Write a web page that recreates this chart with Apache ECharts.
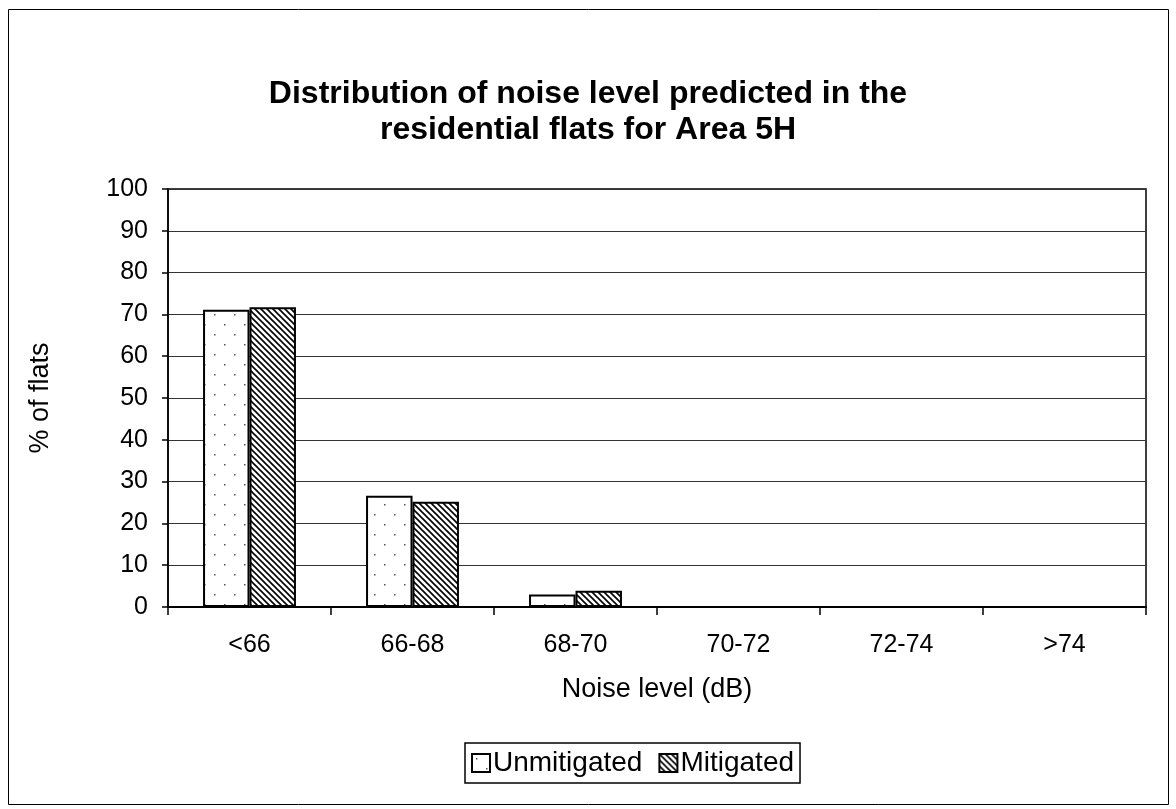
<!DOCTYPE html>
<html>
<head>
<meta charset="utf-8">
<script src="https://cdn.jsdelivr.net/npm/echarts@6/dist/echarts.min.js"></script>
<style>
html,body{margin:0;padding:0;background:#fff;}
#chart{width:1176px;height:809px;}
</style>
</head>
<body>
<div id="chart"></div>
<script>
const categories = ['<66', '66-68', '68-70', '70-72', '72-74', '>74'];
const unmitigated = [71.1, 26.6, 3.0, 0, 0, 0];
const mitigated = [71.7, 25.2, 3.9, 0, 0, 0];
const yTicks = [0, 10, 20, 30, 40, 50, 60, 70, 80, 90, 100];

function dotPattern() {
  const c = document.createElement('canvas');
  c.width = 20; c.height = 20;
  const g = c.getContext('2d');
  g.fillStyle = '#fff'; g.fillRect(0, 0, 20, 20);
  g.fillStyle = '#555';
  g.fillRect(4, 4, 1.5, 1.5);
  g.fillRect(14, 14, 1.5, 1.5);
  return c;
}
function hatchPattern() {
  const s = 6;
  const c = document.createElement('canvas');
  c.width = s; c.height = s;
  const g = c.getContext('2d');
  g.fillStyle = '#fff'; g.fillRect(0, 0, s, s);
  g.strokeStyle = '#000'; g.lineWidth = 1.6;
  g.beginPath();
  g.moveTo(-1, -1); g.lineTo(s + 1, s + 1);
  g.moveTo(-1, s - 1); g.lineTo(1, s + 1);
  g.moveTo(s - 1, -1); g.lineTo(s + 1, 1);
  g.stroke();
  return c;
}

const chart = echarts.init(document.getElementById('chart'));
const FONT = '"Liberation Sans", Arial, sans-serif';
chart.setOption({
  backgroundColor: '#fff',
  animation: false,
  title: {
    text: 'Distribution of noise level predicted in the\nresidential flats for Area 5H',
    left: 'center',
    top: 71,
    textStyle: { fontFamily: FONT, fontWeight: 'bold', fontSize: 32, color: '#000', lineHeight: 36 }
  },
  graphic: [{
    type: 'rect', shape: { x: 8.5, y: 9.5, width: 1160, height: 795 },
    style: { fill: 'none', stroke: '#000', lineWidth: 1 }, silent: true
  }],
  legend: {
    data: ['Unmitigated', 'Mitigated'],
    left: 465,
    top: 743,
    icon: 'rect',
    itemWidth: 18, itemHeight: 18, itemGap: 16,
    borderColor: '#000', borderWidth: 1.5, padding: [6, 6, 6, 6],
    textStyle: { fontFamily: FONT, fontSize: 28, color: '#000', padding: [0, 0, 0, -2] }
  },
  grid: { left: 168, right: 30, top: 189, bottom: 202, show: true, borderColor: '#000', borderWidth: 1.5 },
  xAxis: {
    type: 'category',
    data: categories,
    name: 'Noise level (dB)',
    nameLocation: 'middle',
    nameGap: 69,
    nameTextStyle: { fontFamily: FONT, fontSize: 27, color: '#000' },
    axisLine: { lineStyle: { color: '#000', width: 2 } },
    axisTick: { show: true, length: 8, lineStyle: { color: '#000', width: 1.5 } },
    axisLabel: { fontFamily: FONT, fontSize: 25, color: '#000', margin: 26 }
  },
  yAxis: {
    type: 'value',
    min: 0, max: 100, interval: 10,
    name: '% of flats',
    nameLocation: 'middle',
    nameGap: 114,
    nameTextStyle: { fontFamily: FONT, fontSize: 27, color: '#000' },
    axisLine: { show: true, lineStyle: { color: '#000', width: 1.5 } },
    axisTick: { show: true, length: 6, lineStyle: { color: '#000', width: 1.5 } },
    axisLabel: { fontFamily: FONT, fontSize: 25, color: '#000', margin: 20,
      formatter: v => yTicks.includes(v) ? String(v) : '' },
    splitLine: { show: true, lineStyle: { color: '#333', width: 1.2 } }
  },
  series: [
    {
      name: 'Unmitigated', type: 'bar', data: unmitigated,
      barGap: '0%', barCategoryGap: '43%',
      itemStyle: { color: { image: dotPattern(), repeat: 'repeat' }, borderColor: '#000', borderWidth: 2 }
    },
    {
      name: 'Mitigated', type: 'bar', data: mitigated,
      itemStyle: { color: { image: hatchPattern(), repeat: 'repeat' }, borderColor: '#000', borderWidth: 2 }
    }
  ]
});
</script>
</body>
</html>
